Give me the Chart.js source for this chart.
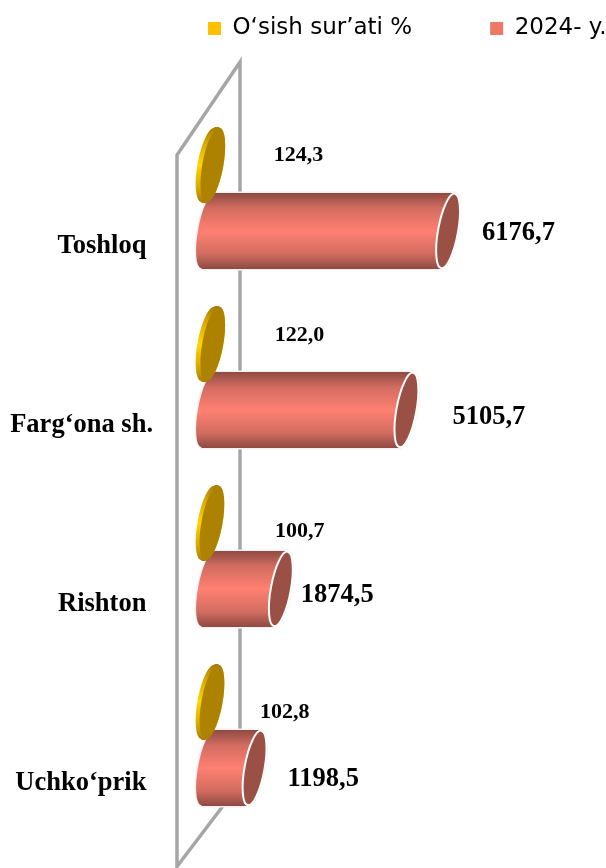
<!DOCTYPE html>
<html>
<head>
<meta charset="utf-8">
<style>
  html, body { margin: 0; padding: 0; background: #ffffff; }
  canvas { display: block; }
</style>
<script src="https://cdn.jsdelivr.net/npm/chart.js@4/dist/chart.umd.min.js"></script>
</head>
<body>
<canvas id="chart" width="606" height="868"></canvas>
<script>
// data
const categories = ['Toshloq', 'Farg‘ona sh.', 'Rishton', 'Uchko‘prik'];
const growthLabel = 'O‘sish sur’ati %';
const growthValues = [124.3, 122.0, 100.7, 102.8];
const volumeLabel = '2024- y.';
const volumeValues = [6176.7, 5105.7, 1874.5, 1198.5];

// hand placed data labels, offset from the end of each bar
const growthLabelOffsets = [[61, -10], [62, -8.5], [63, 8], [48, 10]];
const volumeLabelOffsets = [[34, 2], [46, 7], [20, 6], [33, 11]];

const cylinderStyles = [
  { edge: '#a67c00', soft: '#d9a800', mid: '#ffd400', face: '#ad8200', outline: null, rx: 10.5 },
  { edge: '#8f4a42', soft: '#d26c60', mid: '#ff8072', face: '#9a5044', outline: '#f2f2f2', rx: 10 }
];

const fmt = (v) => v.toFixed(1).replace('.', ',');

// slanted back wall of the 3D chart
const wallPlugin = {
  id: 'wall',
  beforeDatasetsDraw(chart) {
    const { ctx, chartArea } = chart;
    const x0 = chart.scales.x.getPixelForValue(0);
    const l = x0 - 31, r = x0 + 32;
    ctx.save();
    ctx.strokeStyle = '#a6a6a6';
    ctx.lineWidth = 3.5;
    ctx.lineJoin = 'miter';
    ctx.beginPath();
    ctx.moveTo(r, chartArea.bottom - 41);
    ctx.lineTo(r, chartArea.top - 46.5);
    ctx.lineTo(l, chartArea.top + 46.5);
    ctx.lineTo(l, chartArea.bottom + 42);
    ctx.lineTo(l + 63, chartArea.bottom - 41);
    ctx.stroke();
    ctx.restore();
  }
};

// bars are drawn as tilted cylinders from the library's element geometry
const cylinderPlugin = {
  id: 'cylinder',
  beforeDatasetDraw(chart, args) {
    const { ctx } = chart;
    const style = cylinderStyles[args.index];
    const tilt = 0.18, rx = style.rx;
    args.meta.data.forEach((bar) => {
      const ry = bar.height / 2;
      const slant = 6.5;
      const shape = () => {
        ctx.beginPath();
        ctx.moveTo(bar.base + slant, bar.y - ry);
        ctx.lineTo(bar.x + slant, bar.y - ry);
        ctx.lineTo(bar.x - slant, bar.y + ry);
        ctx.lineTo(bar.base - slant, bar.y + ry);
        ctx.closePath();
        ctx.moveTo(bar.base + rx, bar.y);
        ctx.ellipse(bar.base, bar.y, rx, ry, tilt, 0, Math.PI * 2);
        ctx.moveTo(bar.x + rx, bar.y);
        ctx.ellipse(bar.x, bar.y, rx, ry, tilt, 0, Math.PI * 2);
      };
      ctx.save();
      if (style.outline) {
        shape();
        ctx.strokeStyle = style.outline;
        ctx.lineWidth = 3;
        ctx.stroke();
      }
      const grad = ctx.createLinearGradient(0, bar.y - ry, 0, bar.y + ry);
      grad.addColorStop(0, style.edge);
      grad.addColorStop(0.2, style.soft);
      grad.addColorStop(0.5, style.mid);
      grad.addColorStop(0.8, style.soft);
      grad.addColorStop(1, style.edge);
      shape();
      ctx.fillStyle = grad;
      ctx.fill('nonzero');
      ctx.beginPath();
      ctx.ellipse(bar.x, bar.y, rx, ry, tilt, 0, Math.PI * 2);
      ctx.fillStyle = style.face;
      ctx.fill();
      if (style.outline) {
        ctx.strokeStyle = '#ffffff';
        ctx.lineWidth = 2;
        ctx.stroke();
      }
      ctx.restore();
    });
    return false;
  }
};

const valueLabelPlugin = {
  id: 'valueLabels',
  afterDraw(chart) {
    const { ctx } = chart;
    const sets = [
      { meta: chart.getDatasetMeta(0), values: growthValues, offsets: growthLabelOffsets, size: 22 },
      { meta: chart.getDatasetMeta(1), values: volumeValues, offsets: volumeLabelOffsets, size: 26.5 }
    ];
    ctx.save();
    ctx.fillStyle = '#000000';
    ctx.textAlign = 'left';
    ctx.textBaseline = 'middle';
    sets.forEach((s) => {
      ctx.font = `bold ${s.size}px "Liberation Serif"`;
      s.meta.data.forEach((bar, i) => {
        ctx.fillText(fmt(s.values[i]), bar.x + s.offsets[i][0], bar.y + s.offsets[i][1]);
      });
    });
    ctx.restore();
  }
};

// legend sits high up and starts right of centre
const legendPlacePlugin = {
  id: 'legendPlace',
  afterLayout(chart) {
    const legend = chart.legend;
    const pad = legend.options.labels.padding;
    legend.left = 208 - pad;
    legend.right = legend.left + 606;
    legend.top = 17 - pad;
  }
};

new Chart(document.getElementById('chart').getContext('2d'), {
  type: 'bar',
  data: {
    labels: categories,
    datasets: [
      { label: growthLabel, data: growthValues, backgroundColor: '#ffc000', categoryPercentage: 0.737, barPercentage: 1.15 },
      { label: volumeLabel, data: volumeValues, backgroundColor: '#ee7766', categoryPercentage: 0.737, barPercentage: 1.15 }
    ]
  },
  options: {
    indexAxis: 'y',
    responsive: false,
    animation: false,
    layout: { padding: { top: -2.5, bottom: 43.5, left: 0, right: 0 } },
    plugins: {
      tooltip: { enabled: false },
      legend: {
        display: true,
        position: 'top',
        align: 'start',
        labels: {
          boxWidth: 13,
          boxHeight: 13,
          padding: 78,
          color: '#000000',
          font: { family: '"DejaVu Sans"', size: 23 }
        }
      }
    },
    scales: {
      x: { display: false, min: 0, max: 10240 },
      y: {
        // tick labels are shifted down, they must not reserve room at the ends
        afterFit: (scale) => {
          scale.width = 208;
          scale.paddingTop = 0;
          scale.paddingBottom = 0;
        },
        grid: { display: false },
        border: { display: false },
        ticks: {
          autoSkip: false,
          padding: 47,
          labelOffset: 48.5,
          color: '#000000',
          font: { family: '"Liberation Serif"', size: 26.5, weight: 'bold' },
          // the long label reaches further right than the others
          callback(value) {
            const name = this.getLabelForValue(value);
            return name.length > 10 && name.includes('.') ? name : name + ' ';
          }
        }
      }
    }
  },
  plugins: [wallPlugin, cylinderPlugin, valueLabelPlugin, legendPlacePlugin]
});
</script>
</body>
</html>
